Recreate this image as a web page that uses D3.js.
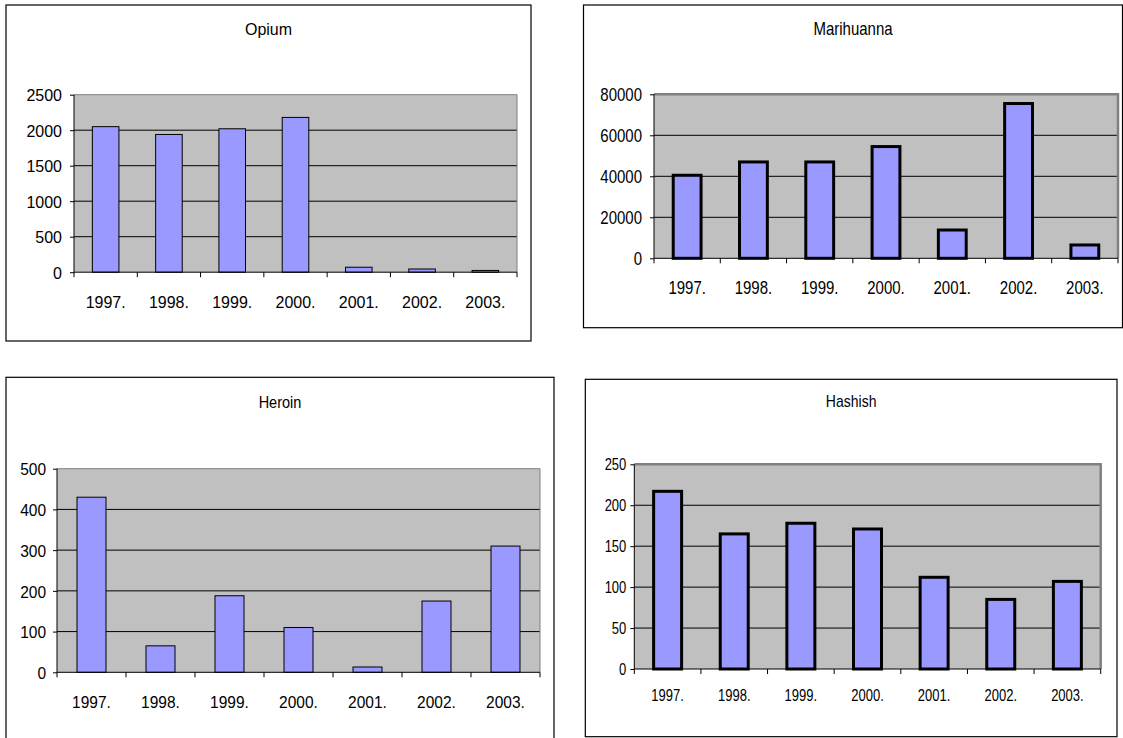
<!DOCTYPE html>
<html>
<head>
<meta charset="utf-8">
<script src="https://cdn.jsdelivr.net/npm/d3@7"></script>
<style>
  html, body { margin: 0; padding: 0; background: #fff; }
  svg { display: block; }
  text { font-family: "Liberation Sans", Arial, sans-serif; fill: #000; }
</style>
</head>
<body>
<svg id="chart" width="1123" height="738"></svg>
<script>
// ---- data ----
const years = ["1997.", "1998.", "1999.", "2000.", "2001.", "2002.", "2003."];
const opium = [2050, 1940, 2020, 2180, 70, 45, 25];
const marihuanna = [40500, 47000, 47000, 54500, 13800, 75500, 6500];
const heroin = [430, 65, 188, 110, 13, 175, 310];
const hashish = [217, 165, 178, 171, 112, 85, 107];
const opiumTicks = [0, 500, 1000, 1500, 2000, 2500];
const marihuannaTicks = [0, 20000, 40000, 60000, 80000];
const heroinTicks = [0, 100, 200, 300, 400, 500];
const hashishTicks = [0, 50, 100, 150, 200, 250];

// ---- panel layout ----
const panels = [
  { title: "Opium", values: opium, ticks: opiumTicks,
    frame: [6, 5, 531, 341], plot: [74, 94.7, 517, 272.2],
    titleY: 29, font: 16, stretch: 1.05, titleFont: 16, labelOffset: 30, yGap: 12, barStroke: 1, border: 1 },
  { title: "Marihuanna", values: marihuanna, ticks: marihuannaTicks,
    frame: [583.5, 5, 1122.5, 327.7], plot: [654, 94.3, 1118, 258.3],
    titleY: 29, font: 15, stretch: 1.2, titleFont: 15, labelOffset: 29, yGap: 12, barStroke: 3, border: 2.5 },
  { title: "Heroin", values: heroin, ticks: heroinTicks,
    frame: [6, 377.3, 554, 740], plot: [57, 468.7, 540, 672.3],
    titleY: 402.7, font: 15.5, stretch: 1.1, titleFont: 14.5, labelOffset: 29.4, yGap: 11, barStroke: 1, border: 1 },
  { title: "Hashish", values: hashish, ticks: hashishTicks,
    frame: [585.3, 379.3, 1117, 736.7], plot: [634.3, 464.3, 1100.7, 669],
    titleY: 400.7, font: 13, stretch: 1.2, titleFont: 14, labelOffset: 26, yGap: 8, barStroke: 3, border: 2.5 }
];

const svg = d3.select("#chart");

// place a text centred vertically at (x, y) with a vertical stretch
function placeText(sel, x, y, stretch) {
  sel.attr("x", 0).attr("y", 0).attr("dy", "0.36em")
     .attr("transform", `translate(${x},${y}) scale(1,${stretch})`);
}

panels.forEach(p => {
  const g = svg.append("g");
  const [fx0, fy0, fx1, fy1] = p.frame;
  const [px0, py0, px1, py1] = p.plot;

  // frame
  g.append("rect")
    .attr("x", fx0).attr("y", fy0)
    .attr("width", fx1 - fx0).attr("height", fy1 - fy0)
    .attr("fill", "#fff").attr("stroke", "#000").attr("stroke-width", 1.2);

  // title
  g.append("text")
    .attr("text-anchor", "middle")
    .style("font-size", p.titleFont + "px")
    .text(p.title)
    .call(placeText, (fx0 + fx1) / 2, p.titleY, p.stretch);

  const x = d3.scaleBand().domain(years).range([px0, px1]).padding(0);
  const y = d3.scaleLinear().domain([0, d3.max(p.ticks)]).range([py1, py0]);

  // plot area
  g.append("rect")
    .attr("x", px0).attr("y", py0)
    .attr("width", px1 - px0).attr("height", py1 - py0)
    .attr("fill", "#c0c0c0");

  // gridlines
  g.append("g")
    .selectAll("line")
    .data(p.ticks.filter(t => t > 0 && t < d3.max(p.ticks)))
    .join("line")
    .attr("x1", px0).attr("x2", px1)
    .attr("y1", d => y(d)).attr("y2", d => y(d))
    .attr("stroke", "#000").attr("stroke-width", 1);

  // plot border (top and right) gray
  g.append("path")
    .attr("d", `M${px0},${py0}H${px1}V${py1}`)
    .attr("fill", "none")
    .attr("stroke", "#808080")
    .attr("stroke-width", p.border);

  // bars
  const bw = x.bandwidth() * 0.42;
  g.append("g")
    .selectAll("rect")
    .data(p.values)
    .join("rect")
    .attr("x", (d, i) => x(years[i]) + (x.bandwidth() - bw) / 2)
    .attr("y", d => y(d))
    .attr("width", bw)
    .attr("height", d => y(0) - y(d))
    .attr("fill", "#9999ff")
    .attr("stroke", "#000")
    .attr("stroke-width", p.barStroke);

  // y axis
  const yAxis = g.append("g")
    .attr("transform", `translate(${px0},0)`)
    .call(d3.axisLeft(y).tickValues(p.ticks).tickSize(4).tickFormat(d3.format("d")));
  yAxis.select(".domain").attr("stroke", "#000").attr("d", `M0,${py0}V${py1}`);
  yAxis.selectAll(".tick line").attr("stroke", "#000");
  yAxis.selectAll(".tick text")
    .style("font-size", p.font + "px").attr("fill", "#000")
    .attr("text-anchor", "end")
    .each(function () { d3.select(this).call(placeText, -p.yGap, 0, p.stretch); });

  // x axis labels
  const xAxis = g.append("g")
    .attr("transform", `translate(0,${py1})`)
    .call(d3.axisBottom(x).tickSize(0));
  xAxis.select(".domain").attr("stroke", "#000").attr("d", `M${px0},0H${px1}`);
  xAxis.selectAll(".tick text")
    .style("font-size", p.font + "px").attr("fill", "#000")
    .attr("text-anchor", "middle")
    .each(function () { d3.select(this).call(placeText, 0, p.labelOffset, p.stretch); });

  // x boundary ticks
  const bounds = years.map(yr => x(yr)).concat([px1]);
  g.append("g")
    .selectAll("line")
    .data(bounds)
    .join("line")
    .attr("x1", d => d).attr("x2", d => d)
    .attr("y1", py1).attr("y2", py1 + 5)
    .attr("stroke", "#000");
});
</script>
</body>
</html>
